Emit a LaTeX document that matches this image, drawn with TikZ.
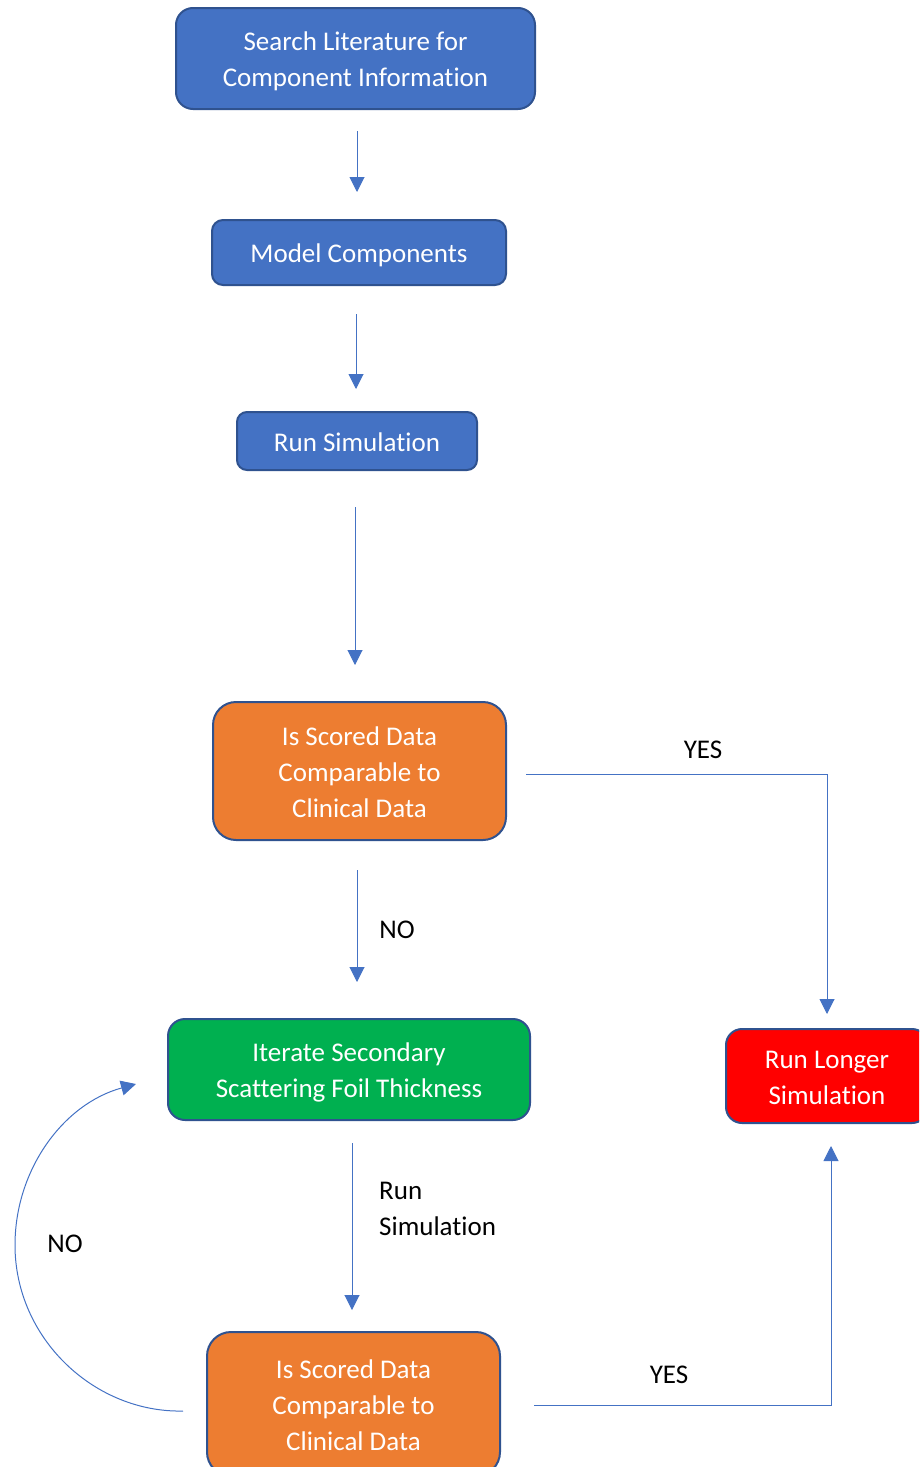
\documentclass[tikz,border=0pt]{standalone}
\usepackage{fontspec}
\setmainfont[RawFeature=-liga]{Carlito}
\usetikzlibrary{arrows.meta}
\definecolor{lineblue}{HTML}{4472C4}
\definecolor{edgeblue}{HTML}{2F528F}
\definecolor{boxblue}{HTML}{4472C4}
\definecolor{boxorange}{HTML}{ED7D31}
\definecolor{boxgreen}{HTML}{00B050}
\definecolor{boxred}{HTML}{FF0000}
\newcommand{\boxtext}[1]{\raisebox{-3pt}[\height][\depth]{\begin{tabular}{@{}c@{}}#1\end{tabular}}}
\begin{document}
\begin{tikzpicture}[x=1pt,y=-1pt,
  box/.style={draw=edgeblue, line width=2pt, text=white, align=center, inner sep=0pt,
    font=\fontsize{27}{36}\selectfont},
  arr/.style={draw=lineblue, line width=1pt, -{Triangle[width=15pt,length=15pt]}},
  lbl/.style={font=\fontsize{27}{36}\selectfont, text=black, inner sep=0pt}]
\useasboundingbox (0,0) rectangle (919,1467);
\clip (0,0) rectangle (919,1467);
\node[box, fill=boxblue, minimum width=359pt, minimum height=101pt, rounded corners=17pt] (search) at (355.5,58.5) {\boxtext{Search Literature for\\Component Information}};
\node[box, fill=boxblue, minimum width=294pt, minimum height=65pt, rounded corners=11pt] (model) at (359,252.5) {\boxtext{Model Components}};
\node[box, fill=boxblue, minimum width=240pt, minimum height=58pt, rounded corners=10pt] (run) at (357,441) {\boxtext{Run Simulation}};
\node[box, fill=boxorange, minimum width=293pt, minimum height=138pt, rounded corners=23pt] (q1) at (359.5,771) {\boxtext{Is Scored Data\\Comparable to\\Clinical Data}};
\node[box, fill=boxgreen, minimum width=362pt, minimum height=101pt, rounded corners=17pt] (iter) at (349,1069.5) {\boxtext{Iterate Secondary\\Scattering Foil Thickness}};
\node[box, fill=boxred, minimum width=202pt, minimum height=94pt, rounded corners=16pt] (longer) at (827,1076) {\boxtext{Run Longer\\Simulation}};
\node[box, fill=boxorange, minimum width=293pt, minimum height=144pt, rounded corners=24pt] (q2) at (353.5,1404) {\boxtext{Is Scored Data\\Comparable to\\Clinical Data}};

\draw[arr, shorten <=21pt, shorten >=27pt] ([xshift=1.5pt]search.south) -- ([xshift=1.5pt]search.south |- model.north);
\draw[arr, shorten <=28pt, shorten >=22pt] ([xshift=-3pt]model.south) -- ([xshift=-3pt]model.south |- run.north);
\draw[arr, shorten <=36pt, shorten >=36pt] ([xshift=-2pt]run.south) -- ([xshift=-2pt]run.south |- q1.north);
\draw[arr, shorten <=29pt, shorten >=36pt] ([xshift=-2.5pt]q1.south) -- ([xshift=-2.5pt]q1.south |- iter.north);
\draw[arr, shorten <=22pt, shorten >=21pt] ([xshift=3pt]iter.south) -- ([xshift=3pt]iter.south |- q2.north);
\draw[arr, shorten <=19pt, shorten >=14pt] ([yshift=-3pt]q1.east) -| (longer.north);
\draw[arr, shorten <=33pt, shorten >=22pt] ([yshift=-1pt]q2.east) -| ([xshift=4pt]longer.south);

\coordinate (noS) at ([shift={(-23,7)}]q2.west);
\coordinate (noE) at ([shift={(-31,14.5)}]iter.west);
\draw[arr] (noS) .. controls (95,1413) and (15,1339) .. (15,1245)
  .. controls (15,1170) and (63,1104) .. (noE);

\node[lbl] (no1) at (397,930) {NO};
\node[lbl] (yes1) at (703,750) {YES};
\node[lbl, align=left, anchor=west] (runsim) at (379,1209) {Run\\Simulation};
\node[lbl] (no2) at (65,1244) {NO};
\node[lbl] (yes2) at (669,1375) {YES};
\end{tikzpicture}
\end{document}
